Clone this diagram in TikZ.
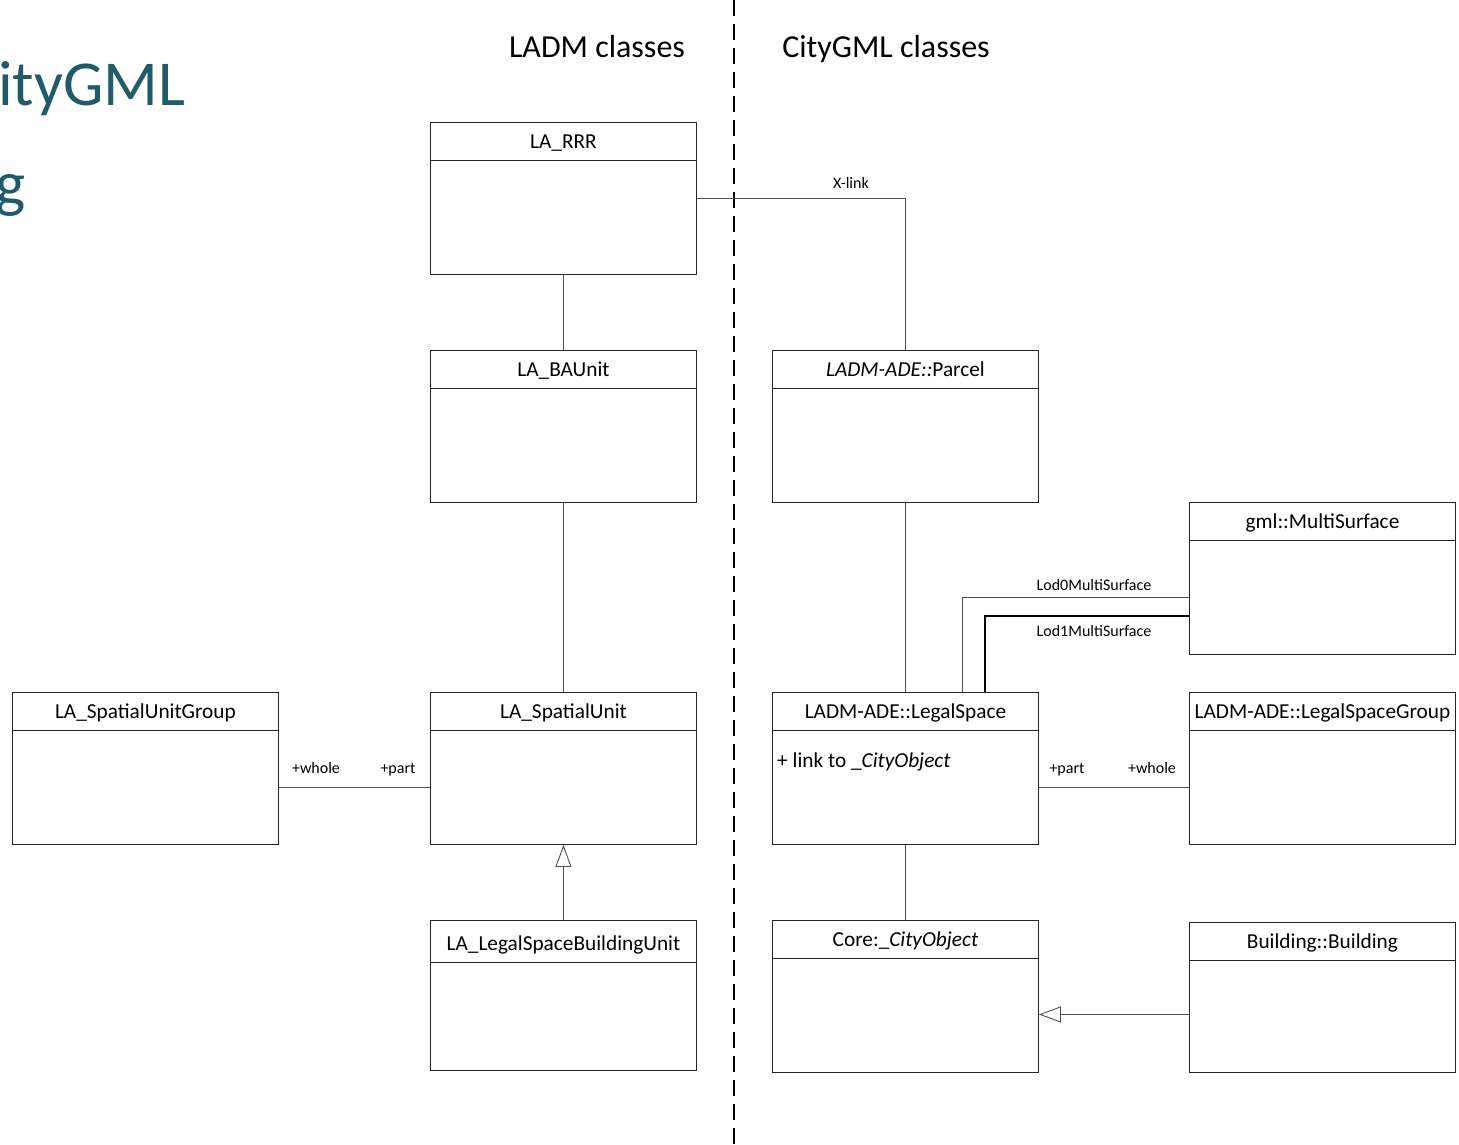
\documentclass[tikz,border=0pt]{standalone}
\usepackage{fontspec}
\setmainfont{Carlito}
\usetikzlibrary{arrows.meta,calc}
\definecolor{teal1}{HTML}{215B69}
\definecolor{boxc}{HTML}{262626}
\definecolor{connc}{HTML}{505050}
\begin{document}
\begin{tikzpicture}[x=1pt,y=-1pt,
  umlbox/.style={draw=boxc, line width=0.9pt, minimum width=266pt, minimum height=152pt, anchor=north west, inner sep=0pt},
  divline/.style={draw=boxc, line width=0.9pt},
  ttl/.style={font=\fontsize{21.3}{25}\selectfont, anchor=base, inner sep=0pt},
  attr/.style={font=\fontsize{21.3}{25}\selectfont, anchor=base west, inner sep=0pt},
  conn/.style={draw=connc, line width=0.9pt},
  lbl/.style={font=\fontsize{16}{18}\selectfont, anchor=base, inner sep=0pt},
  hdr/.style={font=\fontsize{32}{36}\selectfont, anchor=base, inner sep=0pt},
  gen/.style={-{Triangle[open, length=22pt, width=16pt, line width=0.9pt]}},
]
\useasboundingbox (0,0) rectangle (1459,1144);

\newcommand\classbox[6]{%
  \node[umlbox, minimum height=#4pt] (#1) at (#2,#3) {};
  \draw[divline] ($(#1.north west)+(0,#5)$) -- ($(#1.north east)+(0,#5)$);
  \node[ttl] (#1-t) at ($(#1.north)+(0,#5-12)$) {#6};}

% title fragments
\node[font=\fontsize{64}{70}\selectfont, text=teal1, anchor=base west, inner sep=0pt] (t1) at (-2,105) {ityGML};
\node[font=\fontsize{64}{70}\selectfont, text=teal1, anchor=base east, inner sep=0pt] (t2) at (26,205) {g};

% headers
\node[hdr] (h1) at (597,57) {LADM classes};
\node[hdr] (h2) at (886,57) {CityGML classes};

% dashed separator
\coordinate (d0) at (734,0);
\coordinate (d1) at (734,1144);
\draw[line width=2pt, dash pattern=on 16pt off 8pt] (d0) -- (d1);

% classes
\classbox{rrr}{430}{122}{152}{38}{LA\_RRR}
\classbox{ba}{430}{350}{152}{38}{LA\_BAUnit}
\classbox{su}{430}{692}{152}{38}{LA\_SpatialUnit}
\classbox{sug}{12}{692}{152}{38}{LA\_SpatialUnitGroup}
\classbox{lsbu}{430}{920}{150}{42}{LA\_LegalSpaceBuildingUnit}
\classbox{parcel}{772}{350}{152}{38}{\textit{LADM-ADE::}Parcel}
\classbox{ms}{1189}{502}{152}{38}{gml::MultiSurface}
\classbox{ls}{772}{692}{152}{38}{LADM-ADE::LegalSpace}
\classbox{lsg}{1189}{692}{152}{38}{LADM-ADE::LegalSpaceGroup}
\classbox{co}{772}{920}{152}{38}{Core:\_\textit{CityObject}}
\classbox{bld}{1189}{922}{150}{38}{Building::Building}

\node[attr] (lsattr) at (777,767) {+ link to \_\textit{CityObject}};

% connectors
\draw[conn] (rrr.south) -- (ba.north);
\draw[conn] (ba.south) -- (su.north);
\draw[conn] (rrr.east) -| (parcel.north);
\node[lbl] (xl) at (851,188) {X-link};
\draw[conn] (parcel.south) -- (ls.north);
\draw[conn] ($(sug.east)+(0,19)$) -- ($(su.west)+(0,19)$);
\node[lbl] (w1) at (316,773) {+whole};
\node[lbl] (p1) at (398,773) {+part};
\draw[conn, gen] (lsbu.north) -- (su.south);
\draw[conn] (ls.south) -- (co.north);
\draw[conn] ($(ls.east)+(0,19)$) -- ($(lsg.west)+(0,19)$);
\node[lbl] (p2) at (1067,773) {+part};
\node[lbl] (w2) at (1152,773) {+whole};
\draw[conn, gen] ($(bld.west)+(0,17)$) -- ($(co.east)+(0,18)$);
\draw[conn] ($(ls.north west)+(190,0)$) |- ($(ms.north west)+(0,95)$);
\node[lbl] (l0) at (1094,590) {Lod0MultiSurface};
\draw[draw=black, line width=2pt] ($(ls.north west)+(213,0)$) |- ($(ms.north west)+(0,114)$);
\node[lbl] (l1) at (1094,636) {Lod1MultiSurface};
\end{tikzpicture}
\end{document}
